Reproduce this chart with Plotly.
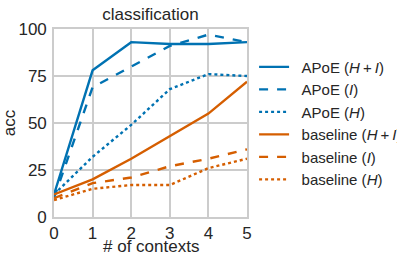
import plotly.graph_objects as go

contexts = [0, 1, 2, 3, 4, 5]
apoe_hi = [12, 78, 93, 92, 92, 93]
apoe_i = [10, 69, 80, 91, 97, 93]
apoe_h = [12, 32, 49, 68, 76, 75]
base_hi = [12, 20, 31, 43, 55, 72]
base_i = [10, 18, 21, 27, 31, 36]
base_h = [9, 15, 17, 17, 26, 31]

BLUE = "#0072B2"
ORANGE = "#D55E00"

P = "\u2002"
HI = "<i>H</i>\u2009+\u2009<i>I</i>"
series = [
    (P + "APoE (" + HI + ")", apoe_hi, BLUE, "solid"),
    (P + "APoE (<i>I</i>)", apoe_i, BLUE, "dash"),
    (P + "APoE (<i>H</i>)", apoe_h, BLUE, "dot"),
    (P + "baseline (" + HI + ")", base_hi, ORANGE, "solid"),
    (P + "baseline (<i>I</i>)", base_i, ORANGE, "dash"),
    (P + "baseline (<i>H</i>)", base_h, ORANGE, "dot"),
]

fig = go.Figure()
for name, ys, col, dash in series:
    fig.add_trace(go.Scatter(x=contexts, y=ys, mode="lines", name=name,
                             line=dict(color=col, dash=dash, width=2.4)))

FONT = "Liberation Sans, Arial, sans-serif"
TXT = "#262626"
fig.update_layout(
    width=397, height=253,
    margin=dict(l=54, r=150, t=29, b=36, autoexpand=False),
    paper_bgcolor="white", plot_bgcolor="white",
    font=dict(family=FONT, color=TXT, size=17),
    title=dict(text="classification", xref="paper", x=0.5, xanchor="center",
               yref="container", y=0.945, yanchor="middle",
               font=dict(size=17, color=TXT)),
    xaxis=dict(range=[0, 5], tickvals=[0, 1, 2, 3, 4, 5], showgrid=True,
               gridcolor="#cccccc", gridwidth=1.6, zeroline=False,
               showline=True, linecolor="#cccccc", linewidth=1.6, mirror=True,
               ticks="", tickfont=dict(size=17), automargin=False),
    yaxis=dict(range=[0, 100], tickvals=[0, 25, 50, 75, 100], showgrid=True,
               gridcolor="#cccccc", gridwidth=1.6, zeroline=False,
               showline=True, linecolor="#cccccc", linewidth=1.6, mirror=True,
               ticks="outside", ticklen=2, tickcolor="rgba(0,0,0,0)",
               tickfont=dict(size=17), automargin=True,
               title=dict(text="acc", standoff=2, font=dict(size=17))),
    legend=dict(xref="container", yref="container", x=0.640, y=0.80,
                xanchor="left", yanchor="top", maxheight=240,
                font=dict(size=15, color=TXT), bgcolor="rgba(0,0,0,0)",
                tracegroupgap=0, itemwidth=30),
    showlegend=True,
    annotations=[dict(text="# of contexts", xref="paper", yref="paper",
                      x=0.5, y=-0.155, xanchor="center", yanchor="middle",
                      showarrow=False, font=dict(size=17, color=TXT))],
)

fig.write_html("out.html", config={"displayModeBar": False},
               post_script="document.body.style.margin='0px';")
